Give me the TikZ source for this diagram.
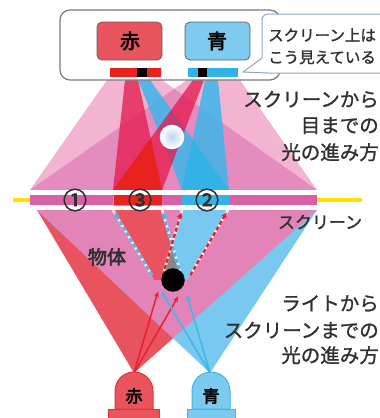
\documentclass[tikz,border=0pt]{standalone}
\usepackage{fontspec}
\setmainfont{Noto Sans CJK JP}[FakeBold=1.2]
\newfontfamily\heavyfont{Noto Sans CJK JP}[FakeBold=3]
\usetikzlibrary{calc,arrows.meta}

\definecolor{lpink}{HTML}{F2B4D1}
\definecolor{mpink}{HTML}{E58CBF}
\definecolor{lowpink}{HTML}{E284B8}
\definecolor{redonly}{HTML}{E8535F}
\definecolor{blueonly}{HTML}{78C8EF}
\definecolor{bandpink}{HTML}{D960A6}
\definecolor{hotred}{HTML}{E8231F}
\definecolor{hotblue}{HTML}{33B2E8}
\definecolor{beamred}{HTML}{E5174A}
\definecolor{beamblue}{HTML}{3DB5EA}
\definecolor{arrred}{HTML}{E8202E}
\definecolor{arrblue}{HTML}{3DB8EA}
\definecolor{scryellow}{HTML}{FFE100}
\definecolor{txtgray}{HTML}{303030}
\definecolor{boxgray}{HTML}{7A7A7A}
\definecolor{callline}{HTML}{8FA6C8}
\definecolor{redbox}{HTML}{E8555F}
\definecolor{bluebox}{HTML}{7ECBEF}
\definecolor{lampred}{HTML}{E9545E}
\definecolor{lampredline}{HTML}{E8302E}
\definecolor{lampblue}{HTML}{7CCBEF}
\definecolor{lampblueline}{HTML}{3DB5EA}
\definecolor{eyeblue}{HTML}{BCD5EC}

\tikzset{
  lbl/.style={text=txtgray, inner sep=0pt, font=\fontsize{19.5}{19.5}\selectfont},
  num/.style={text=txtgray, inner sep=0pt, font=\heavyfont\fontsize{24}{24}\selectfont},
  solidred/.style={draw=arrred, line width=1.5pt, -{Stealth[length=6pt,width=5pt]}},
  solidblue/.style={draw=arrblue, line width=1.5pt, -{Stealth[length=6pt,width=5pt]}},
  dashred/.style={draw=arrred, line width=2.4pt, dash pattern=on 4pt off 2.5pt, -{Stealth[length=6pt,width=6pt]}},
  dashblue/.style={draw=arrblue, line width=2.4pt, dash pattern=on 4pt off 2.5pt, -{Stealth[length=6pt,width=6pt]}},
  dashbase/.style={draw=white, line width=2.6pt, opacity=0.8},
  redbeam/.style={fill=beamred, fill opacity=0.75},
  bluebeam/.style={fill=beamblue, fill opacity=0.85},
}

\begin{document}
\begin{tikzpicture}[x=1pt,y=-1pt]
\useasboundingbox (0,0) rectangle (380,418);

% ---------- light from the screen up to the eye ----------
\coordinate (fL) at (30,190);  \coordinate (fR) at (317,190);
\coordinate (rbL) at (107,80); \coordinate (rbR) at (162,80);
\coordinate (bbL) at (187,80); \coordinate (bbR) at (240,80);
\fill[lpink] (fL) -- (fR) -- (rbR) -- (rbL) -- cycle;
\fill[lpink] (fL) -- (fR) -- (bbR) -- (bbL) -- cycle;
\begin{scope}
  \clip (fL) -- (fR) -- (rbR) -- (rbL) -- cycle;
  \fill[mpink] (fL) -- (fR) -- (bbR) -- (bbL) -- cycle;
\end{scope}

% screen patches 3 (red) and 2 (blue) and the beams leaving them
\coordinate (u1) at (113,190); \coordinate (u2) at (162,190);
\coordinate (u3) at (182,190); \coordinate (u4) at (229,190);
\coordinate (a1) at (125,80);  \coordinate (a2) at (138,80);
\coordinate (b1) at (193,80);  \coordinate (b2) at (204,80);
\coordinate (c1) at (138,80);  \coordinate (c2) at (150,80);
\coordinate (d1) at (205,80);  \coordinate (d2) at (218,80);
\fill[bluebeam] (u3) -- (u4) -- (c2) -- (c1) -- cycle;
\fill[bluebeam] (u3) -- (u4) -- (d2) -- (d1) -- cycle;
\fill[redbeam] (u1) -- (u2) -- (a2) -- (a1) -- cycle;
\fill[redbeam] (u1) -- (u2) -- (b2) -- (b1) -- cycle;
\fill[hotred] (u1) -- (u2) -- (intersection of u2--a2 and u1--b1) -- cycle;
\fill[hotblue] (u3) -- (u4) -- (intersection of u4--c2 and u3--d1) -- cycle;

% ---------- light from the lamps up to the screen ----------
\coordinate (Rl) at (134,373); \coordinate (Bl) at (210,373);
\coordinate (cL) at (37,210);  \coordinate (cR) at (317,210);
\fill[redonly] (Rl) -- (cL) -- (cR) -- cycle;
\fill[blueonly] (Bl) -- (cL) -- (cR) -- cycle;
\fill[lowpink] (cL) -- (cR) -- (intersection of Rl--cR and Bl--cL) -- cycle;

\coordinate (s1) at (113,210); \coordinate (s2) at (162,210);
\coordinate (s3) at (182,210); \coordinate (s4) at (228,210);
% shadows cast by the object
\fill[redonly] (s1) -- (s2) -- ($(Bl)!0.571!(s2)$) -- ($(Bl)!0.571!(s1)$) -- cycle;
\fill[blueonly] (s3) -- (s4) -- ($(Rl)!0.571!(s4)$) -- ($(Rl)!0.571!(s3)$) -- cycle;
\begin{scope}
  \clip (s1) -- (s2) -- ($(Bl)!0.571!(s2)$) -- ($(Bl)!0.571!(s1)$) -- cycle;
  \fill[gray!95] (s3) -- (s4) -- ($(Rl)!0.571!(s4)$) -- ($(Rl)!0.571!(s3)$) -- cycle;
\end{scope}

% ---------- screen ----------
\draw[scryellow, line width=3.5pt] (13,200) -- (362,200);
\fill[white] (30,190) rectangle (317,210);
\fill[bandpink] (30,195) rectangle (317,205);
\fill[hotred] (113,195) rectangle (162,205);
\draw[orange!80, line width=0.8pt] (113.4,195) -- (113.4,205) -- (162,205);
\fill[hotblue] (182,195) rectangle (229,205);
\node[num] (n1) at (75,200) {①};
\node[num] (n3) at (140,200) {③};
\node[num] (n2) at (207,200) {②};
\node[text=txtgray, inner sep=0pt, font=\fontsize{17}{17}\selectfont, anchor=base] (scr) at (320,228.5) {スクリーン};
\node[text=txtgray, inner sep=0pt, font=\heavyfont\fontsize{19}{19}\selectfont, anchor=base] (obtxt) at (107,264) {物体};

% ---------- view panel ----------
\draw[boxgray, line width=1.2pt, fill=white, rounded corners=10pt] (60,10) rectangle (280,80);
\draw[draw=boxgray!80!black, fill=redbox, rounded corners=5pt, line width=0.8pt] (97,22) rectangle (162,60);
\draw[draw=boxgray!80!black, fill=bluebox, rounded corners=5pt, line width=0.8pt] (185,22) rectangle (250,60);
\node[inner sep=0pt, font=\heavyfont\fontsize{20}{20}\selectfont] (rtxt) at (130,41) {赤};
\node[inner sep=0pt, font=\heavyfont\fontsize{20}{20}\selectfont] (btxt) at (217,41) {青};
\fill[hotred] (110,68) rectangle (161,77);
\fill[black] (137,68) rectangle (147,77);
\fill[hotblue] (188,68) rectangle (238,77);
\fill[black] (198,68) rectangle (207,77);

% callout
\draw[callline, line width=1pt, fill=white] (395,14) -- (268,14) arc[start angle=270, end angle=180, radius=6] -- (262,58) -- (243,72) -- (268,73) -- (395,73);
\node[text=txtgray, inner sep=0pt, font=\fontsize{15.5}{15.5}\selectfont, anchor=base west] (callA) at (268,41) {スクリーン上は};
\node[text=txtgray, inner sep=0pt, font=\fontsize{15.5}{15.5}\selectfont, anchor=base west] (callB) at (268,63) {こう見えている};

% side labels
\node[lbl, anchor=base east] (eyeA) at (379,106.6) {スクリーンから};
\node[lbl, anchor=base east] (eyeB) at (379,132.6) {目までの};
\node[lbl, anchor=base east] (eyeC) at (379,159.6) {光の進み方};
\node[lbl, anchor=base east] (lightA) at (379,310.6) {ライトから};
\node[lbl, anchor=base east] (lightB) at (379,337.6) {スクリーンまでの};
\node[lbl, anchor=base east] (lightC) at (379,362.6) {光の進み方};

% eye
\node[circle, minimum size=23pt, inner sep=0pt, draw=white, line width=1.5pt, shade, inner color=eyeblue, outer color=white] (eye) at (172,137) {};

% ---------- rays past the object ----------
\draw[solidred] (Rl) -- ($(Rl)!0.5!(s3)$);
\draw[solidred] (Rl) -- ($(Rl)!0.47!(s4)$);
\draw[solidblue] (Bl) -- ($(Bl)!0.5!(s1)$);
\draw[solidblue] (Bl) -- ($(Bl)!0.48!(s2)$);
\draw[dashbase] ($(Bl)!0.6!(s1)$) -- (s1);
\draw[dashbase] ($(Bl)!0.6!(s2)$) -- (s2);
\draw[dashbase] ($(Rl)!0.6!(s3)$) -- (s3);
\draw[dashbase] ($(Rl)!0.6!(s4)$) -- (s4);
\draw[dashblue] ($(Bl)!0.6!(s1)$) -- ($(Bl)!0.985!(s1)$);
\draw[dashblue] ($(Bl)!0.6!(s2)$) -- ($(Bl)!0.985!(s2)$);
\draw[dashred] ($(Rl)!0.6!(s3)$) -- ($(Rl)!0.985!(s3)$);
\draw[dashred] ($(Rl)!0.6!(s4)$) -- ($(Rl)!0.985!(s4)$);

% object
\node[circle, fill=black, minimum size=23.5pt, inner sep=0pt] (obj) at (173,280) {};

% ---------- lamps ----------
\draw[fill=lampred, draw=lampredline, line width=1pt] (108,409) rectangle (159,425);
\draw[fill=lampred, draw=lampredline, line width=1pt] (115,409) -- (115,391) arc[start angle=180, end angle=360, radius=19] -- (153,409) -- cycle;
\draw[fill=lampblue, draw=lampblueline, line width=1pt] (187,409) rectangle (235,425);
\draw[fill=lampblue, draw=lampblueline, line width=1pt] (192,409) -- (192,391) arc[start angle=180, end angle=360, radius=19] -- (230,409) -- cycle;
\node[inner sep=0pt, font=\heavyfont\fontsize{17}{17}\selectfont] (rlamp) at (134,396) {赤};
\node[inner sep=0pt, font=\heavyfont\fontsize{17}{17}\selectfont] (blamp) at (211,396) {青};
\end{tikzpicture}
\end{document}
